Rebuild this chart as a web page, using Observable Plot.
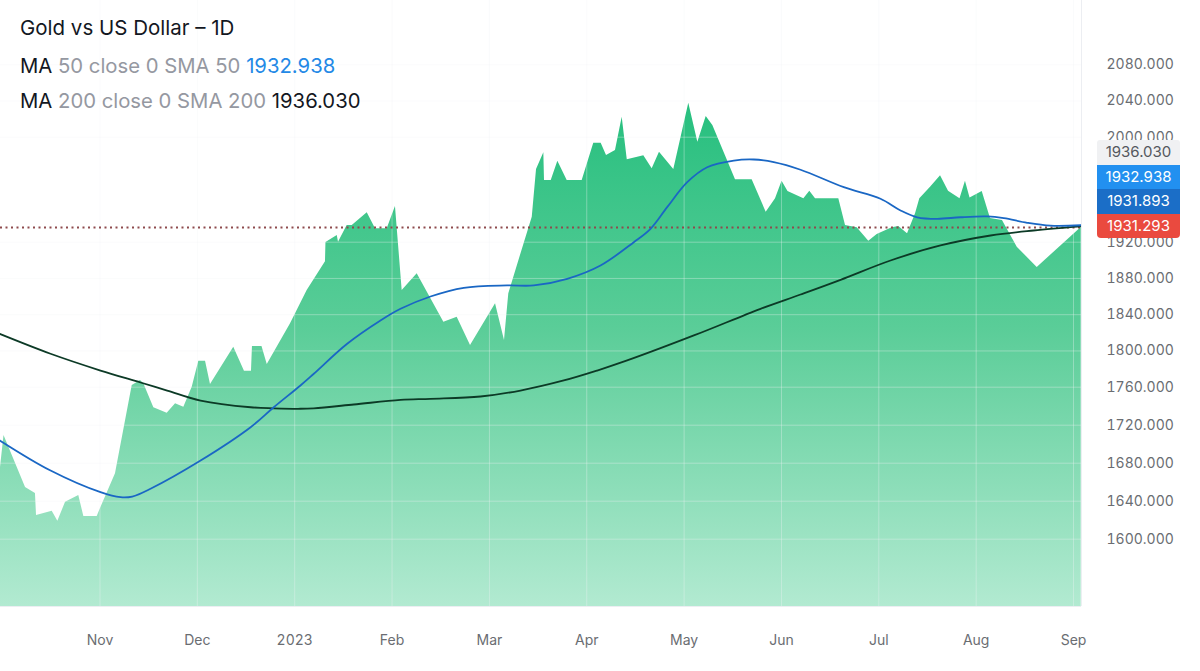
<!DOCTYPE html>
<html>
<head>
<meta charset="utf-8">
<script src="https://cdn.jsdelivr.net/npm/d3@7"></script>
<script src="https://cdn.jsdelivr.net/npm/@observablehq/plot@0.6"></script>
<style>
  html, body { margin: 0; padding: 0; background: #fff; }
  body { font-family: Inter, "Noto Sans", Roboto, sans-serif; }
  #wrap { position: relative; width: 1200px; height: 671px; overflow: hidden; }
  #chart svg { display: block; }
  #legend { position: absolute; left: 20px; top: 0; color: #131722; }
  #legend .title { position: absolute; left: 0; top: 15px; font-size: 20.5px; white-space: nowrap; }
  #legend .row { position: absolute; left: 0; font-size: 20.3px; white-space: nowrap; }
  #legend .muted { color: #9598a1; }
  .tag { position: absolute; left: 1097px; width: 83px; height: 24.5px; line-height: 24.5px;
         text-align: center; font-size: 15px; color: #fff; }
</style>
</head>
<body>
<div id="wrap">
  <div id="chart"></div>
  <div id="legend"></div>
  <div id="tags"></div>
</div>
<script>
// ---------- data ----------
// time position in months since 1 Nov 2022 (trading-day spaced axis)
const priceT = [-1.03,-0.986,-0.765,-0.663,-0.652,-0.491,-0.433,-0.354,-0.218,-0.166,-0.029,0.005,0.159,0.331,0.416,0.45,0.553,0.69,0.776,0.861,0.947,1.015,1.084,1.135,1.374,1.484,1.556,1.566,1.664,1.718,1.957,2.128,2.316,2.321,2.437,2.45,2.539,2.591,2.745,2.83,2.95,3.035,3.104,3.258,3.532,3.669,3.806,4.063,4.155,4.199,4.319,4.44,4.484,4.559,4.566,4.635,4.703,4.799,4.953,5.072,5.148,5.203,5.295,5.364,5.416,5.586,5.672,5.747,5.894,6.048,6.141,6.227,6.295,6.528,6.699,6.843,6.939,7.006,7.067,7.23,7.291,7.35,7.589,7.658,7.778,7.897,7.983,8.137,8.205,8.295,8.377,8.421,8.531,8.634,8.716,8.834,8.89,8.937,9.062,9.147,9.27,9.422,9.627,10.079];
const priceV = [1668,1709.2,1654.4,1648.1,1624.9,1629.5,1618.9,1638.9,1646,1623.9,1623.9,1632.3,1668.8,1761.9,1767.4,1763.8,1738.3,1732.6,1742.5,1738.9,1760,1788.7,1788.7,1763,1804.1,1777.7,1777.7,1804.9,1804.9,1785,1830,1866.7,1898.5,1919.6,1925.1,1920,1932.7,1932.7,1942.4,1930.2,1930.2,1947.2,1866.7,1885.1,1831.7,1837.2,1806,1852,1811.5,1863.1,1905.3,1939,1975.4,1988.1,1967,1967,1981.7,1967,1967,1995.4,1995.4,1986.1,1989.9,2022.1,1982.8,1985.8,1975.9,1988.6,1975.4,2037.6,1996.2,2022.9,2012.9,1967.5,1967.5,1942.9,1953.1,1966.5,1958.6,1953.1,1958.9,1953.1,1953.1,1932.7,1931,1920.8,1925.9,1931,1932,1926.4,1941.6,1953.1,1961.9,1970.6,1958.9,1953.1,1966.5,1953.7,1958.6,1938.1,1936.5,1914.5,1892.1,1931.293];

const ma50T = [-1.03,-0.508,0.005,0.211,0.331,0.519,1.033,1.547,1.785,2.059,2.196,2.539,2.881,3.087,3.395,3.737,4.183,4.456,4.799,5.141,5.483,5.655,5.826,6.032,6.237,6.511,6.716,6.921,7.196,7.64,8.017,8.223,8.394,8.6,8.839,9.113,9.284,9.524,9.763,10.079];
const ma50V = [1704,1672.3,1649.5,1644.2,1644.9,1653.1,1682.8,1717.9,1738.9,1761.9,1774.8,1807.9,1833.6,1846.5,1860.1,1869.7,1872.3,1872.3,1879.6,1894.3,1920,1930.2,1946.7,1965.7,1977.1,1982.2,1983,1981,1975.2,1961.9,1953.1,1944.2,1939,1937.8,1939,1939.6,1938.3,1934.8,1932.6,1932.938];

const ma200T = [-1.03,-0.508,0.005,0.416,0.69,1.033,1.547,1.785,2.059,2.196,2.607,3.087,3.395,3.909,4.319,4.764,5.107,5.415,6.1,6.785,7.196,7.607,8.12,8.634,9.148,9.589,10.079];
const ma200V = [1818.8,1796.9,1778.4,1765.2,1756.5,1745.9,1738.9,1737.8,1737.3,1737.8,1741.8,1746.7,1747.8,1750.2,1756.5,1767.4,1778.4,1789.5,1817.1,1846.5,1862.3,1878.5,1899.8,1916.4,1925.1,1928.9,1932];

const lastPrice = 1931.293;
const monthTicks = [0,1,2,3,4,5,6,7,8,9,10];
const monthLabels = ["Nov","Dec","2023","Feb","Mar","Apr","May","Jun","Jul","Aug","Sep"];
const yTicks = [1600,1640,1680,1720,1760,1800,1840,1880,1920,2000,2040,2080];

const titleText = "Gold vs US Dollar \u2013 1D";
const ma50Label = ["MA", "50 close 0 SMA 50", "1932.938"];
const ma200Label = ["MA", "200 close 0 SMA 200", "1936.030"];
const tagValues = ["1936.030","1932.938","1931.893","1931.293"];

// ---------- build ----------
const price = priceT.map((t,i)=>({t, v: priceV[i]}));
const ma50 = ma50T.map((t,i)=>({t, v: ma50V[i]}));
const ma200 = ma200T.map((t,i)=>({t, v: ma200V[i]}));

const yBase = 1529.2;
const gradDef = () => {
  const svg = d3.create("svg:defs");
  const g = svg.append("linearGradient").attr("id","areaGrad")
    .attr("gradientUnits","userSpaceOnUse").attr("x1",0).attr("x2",0).attr("y1",100).attr("y2",606);
  g.append("stop").attr("offset","0%").attr("stop-color","#26bf7e");
  g.append("stop").attr("offset","45%").attr("stop-color","#5acd98");
  g.append("stop").attr("offset","100%").attr("stop-color","#b2ead1");
  return svg.node();
};

const chart = Plot.plot({
  width: 1200,
  height: 671,
  marginLeft: 0,
  marginRight: 119,
  marginTop: 0,
  marginBottom: 65,
  style: { fontFamily: "Inter, 'Noto Sans', sans-serif", fontSize: "14px", color: "#6a6d72", background: "#fff" },
  x: {
    type: "linear",
    domain: [-1.0221, 10.082],
    ticks: monthTicks,
    tickFormat: d => monthLabels[Math.round(d)],
    tickSize: 0,
    tickPadding: 29,
    label: null
  },
  y: {
    type: "linear",
    domain: [yBase, 1600, 1760, 1920, 2000, 2080, 2151],
    range: [606, 538.7, 386.7, 241.7, 136.7, 64.3, 0],
    ticks: yTicks,
    tickFormat: d => d.toFixed(3),
    tickSize: 0,
    tickPadding: 25,
    axis: "right",
    label: null
  },
  marks: [
    gradDef,
    Plot.areaY(price, {x: "t", y1: yBase, y2: "v", fill: "url(#areaGrad)", clip: true}),
    Plot.ruleX(monthTicks, {x: d => d, stroke: "#f2f4f7", strokeOpacity: 0.35, strokeWidth: 1}),
    Plot.ruleY(yTicks, {y: d => d, stroke: "#f2f4f7", strokeOpacity: 0.35, strokeWidth: 1}),
    Plot.ruleY([lastPrice], {stroke: "#8e4a4d", strokeWidth: 2, strokeDasharray: "2,3.5"}),
    Plot.line(ma200, {x: "t", y: "v", stroke: "#0c3a26", strokeWidth: 1.8, curve: "catmull-rom", clip: true}),
    Plot.line(ma50, {x: "t", y: "v", stroke: "#1a67c4", strokeWidth: 1.8, curve: "catmull-rom", clip: true}),
    Plot.ruleX([10.082], {stroke: "#eceef2", strokeWidth: 1}),
    Plot.ruleY([yBase], {stroke: "#eceef2", strokeWidth: 1})
  ]
});
document.getElementById("chart").appendChild(chart);

// legend overlay
const legend = document.getElementById("legend");
legend.innerHTML = `
  <div class="title">${titleText}</div>
  <div class="row" style="top:53px">${ma50Label[0]} <span class="muted">${ma50Label[1]}</span> <span style="color:#2389e6">${ma50Label[2]}</span></div>
  <div class="row" style="top:88px">${ma200Label[0]} <span class="muted">${ma200Label[1]}</span> <span>${ma200Label[2]}</span></div>`;

// price tags
const tagStyles = [
  {top: 140, bg: "#f0f1f3", fg: "#55585e", radius: "3px 3px 0 0"},
  {top: 164.5, bg: "#2290f0", fg: "#fff", radius: "0"},
  {top: 189, bg: "#1b6ec7", fg: "#fff", radius: "0"},
  {top: 213.5, bg: "#ea4a3f", fg: "#fff", radius: "0 0 4px 4px"}
];
const tags = document.getElementById("tags");
tagValues.forEach((v, i) => {
  const s = tagStyles[i];
  const d = document.createElement("div");
  d.className = "tag";
  d.textContent = v;
  d.style.top = s.top + "px";
  d.style.background = s.bg;
  d.style.color = s.fg;
  d.style.borderRadius = s.radius;
  tags.appendChild(d);
});
</script>
</body>
</html>
